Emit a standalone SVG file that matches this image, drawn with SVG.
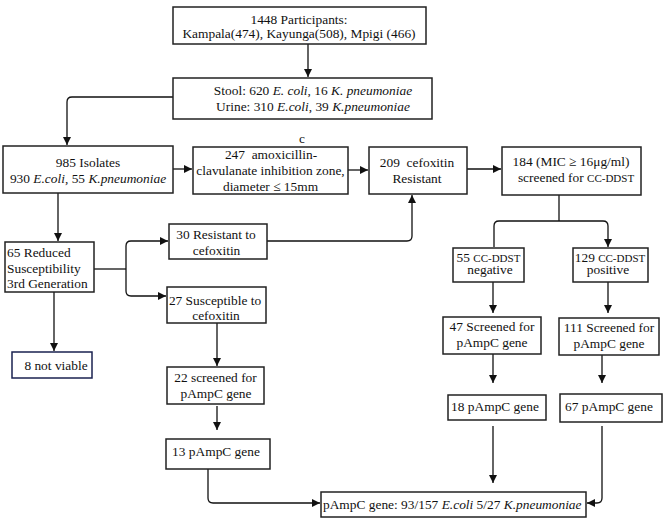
<svg xmlns="http://www.w3.org/2000/svg" width="667" height="523" viewBox="0 0 667 523">
<defs>
<marker id="ah" viewBox="0 0 10 10" refX="10" refY="5" markerWidth="8" markerHeight="8" markerUnits="userSpaceOnUse" orient="auto">
<path d="M0,0 L10,5 L0,10 z" fill="#111"/>
</marker>
</defs>
<style>
.b{fill:#fff;stroke:#222;stroke-width:1.5}
.n{fill:#fff;stroke:#1a2250;stroke-width:1.5}
.t{font-family:'Liberation Serif','Times New Roman',serif;font-size:13.4px;fill:#111}
.c{text-anchor:middle}
.sc{font-size:11px}
.e{fill:none;stroke:#111;stroke-width:1.3;marker-end:url(#ah)}
.l{fill:none;stroke:#111;stroke-width:1.3}
</style>
<rect width="667" height="523" fill="#fff"/>
<g id="connectors">
<path class="e" d="M308,44 V77"/>
<path class="e" d="M173,97 H72 Q67,97 67,102 V145"/>
<path class="e" d="M173,169 H192"/>
<path class="e" d="M348,170 H368"/>
<path class="e" d="M467,169 H501"/>
<path class="e" d="M58,193 V241"/>
<path class="l" d="M94,269 H126"/>
<path class="e" d="M126,269 V246 Q126,241 131,241 H168"/>
<path class="e" d="M126,269 V291 Q126,296 131,296 H166"/>
<path class="e" d="M267,241 H407 Q412,241 412,236 V195"/>
<path class="e" d="M54,292 V351"/>
<path class="e" d="M217,323 V366"/>
<path class="e" d="M217,406 V430"/>
<path class="e" d="M208,469 V498 Q208,503 213,503 H320"/>
<path class="l" d="M559,195 V221"/>
<path class="e" d="M494,247 V226 Q494,221 499,221 H603 Q608,221 608,226 V247"/>
<path class="e" d="M493,282 V313"/>
<path class="e" d="M608,282 V313"/>
<path class="e" d="M493,354 V383"/>
<path class="e" d="M602,355 V383"/>
<path class="e" d="M493,426 V483"/>
<path class="e" d="M602,426 V498 Q602,503 597,503 H587"/>
</g>
<g class="t" font-family="Liberation Serif, Times New Roman, serif" font-size="13.4">
<g id="n1"><rect class="b" x="173" y="7" width="253" height="37"/>
<text class="c" x="299" y="23.5">1448 Participants:</text>
<text class="c" x="299" y="38">Kampala(474), Kayunga(508), Mpigi (466)</text></g>
<g id="n2"><rect class="b" x="173" y="78" width="259" height="41"/>
<text class="c" x="313" y="94.5">Stool: 620 <tspan font-style="italic">E. coli</tspan>, 16 <tspan font-style="italic">K. pneumoniae</tspan></text>
<text class="c" x="313" y="110.5">Urine: 310 <tspan font-style="italic">E.coli</tspan>, 39 <tspan font-style="italic">K.pneumoniae</tspan></text></g>
<g id="n3"><rect class="b" x="3" y="146" width="170" height="47"/>
<text class="c" x="88" y="166.5">985 Isolates</text>
<text class="c" x="88" y="182.5">930 <tspan font-style="italic">E.coli</tspan>, 55 <tspan font-style="italic">K.pneumoniae</tspan></text></g>
<g id="n4"><rect class="b" x="193" y="147" width="155" height="47"/>
<text x="302" y="143" class="c">c</text>
<text class="c" x="271" y="158.5" xml:space="preserve">247  amoxicillin-</text>
<text class="c" x="270.5" y="174.5">clavulanate inhibition zone,</text>
<text class="c" x="270.5" y="190.5">diameter ≤ 15mm</text></g>
<g id="n5"><rect class="b" x="369" y="147" width="98" height="47"/>
<text class="c" x="417" y="166.5" xml:space="preserve">209  cefoxitin</text>
<text class="c" x="417" y="182.5">Resistant</text></g>
<g id="n6"><rect class="b" x="502" y="147" width="139" height="48"/>
<text class="c" x="571" y="165.5">184 (MIC ≥ 16μg/ml)</text>
<text class="c" x="576" y="181.5">screened for <tspan class="sc" font-size="11">CC-DDST</tspan></text></g>
<g id="n7"><rect class="b" x="453" y="248" width="71" height="34"/>
<text class="c" x="488.5" y="261.5">55 <tspan class="sc" font-size="11">CC-DDST</tspan></text>
<text class="c" x="490" y="274">negative</text></g>
<g id="n8"><rect class="b" x="573" y="248" width="75" height="34"/>
<text class="c" x="610" y="261.5">129 <tspan class="sc" font-size="11">CC-DDST</tspan></text>
<text class="c" x="608" y="274">positive</text></g>
<g id="n9"><rect class="b" x="443" y="317" width="98" height="37"/>
<text class="c" x="492" y="330.5">47 Screened for</text>
<text class="c" x="492" y="346.5">pAmpC gene</text></g>
<g id="n10"><rect class="b" x="559" y="318" width="100" height="37"/>
<text class="c" x="609" y="331.5">111 Screened for</text>
<text class="c" x="609" y="347.5">pAmpC gene</text></g>
<g id="n11"><rect class="b" x="448" y="395" width="98" height="25"/>
<text class="c" x="495" y="411">18 pAmpC gene</text></g>
<g id="n12"><rect class="b" x="560" y="394" width="102" height="28"/>
<text class="c" x="609" y="411">67 pAmpC gene</text></g>
<g id="n13"><rect class="b" x="321" y="492" width="265" height="25"/>
<text x="323" y="509">pAmpC gene: 93/157 <tspan font-style="italic">E.coli</tspan> 5/27 <tspan font-style="italic">K.pneumoniae</tspan></text></g>
<g id="n14"><rect class="b" x="5" y="242" width="89" height="50"/>
<text x="7" y="256.5">65 Reduced</text>
<text x="7" y="272.5">Susceptibility</text>
<text x="7" y="287.5">3rd Generation</text></g>
<g id="n15"><rect class="b" x="169" y="224" width="98" height="35"/>
<text class="c" x="216" y="238.5">30 Resistant to</text>
<text class="c" x="216.5" y="254.5">cefoxitin</text></g>
<g id="n16"><rect class="b" x="167" y="287" width="99" height="36"/>
<text class="c" x="215" y="304.5">27 Susceptible to</text>
<text class="c" x="216" y="319.5">cefoxitin</text></g>
<g id="n17"><rect class="b" x="167" y="367" width="97" height="37"/>
<text class="c" x="215.5" y="381.5">22 screened for</text>
<text class="c" x="216" y="397.5">pAmpC gene</text></g>
<g id="n18"><rect class="b" x="166" y="439" width="104" height="30"/>
<text class="c" x="216" y="455.5">13 pAmpC gene</text></g>
<g id="n19"><rect class="n" x="12" y="352" width="80" height="26"/>
<text class="c" x="56" y="370">8 not viable</text></g>
</g>
</svg>
